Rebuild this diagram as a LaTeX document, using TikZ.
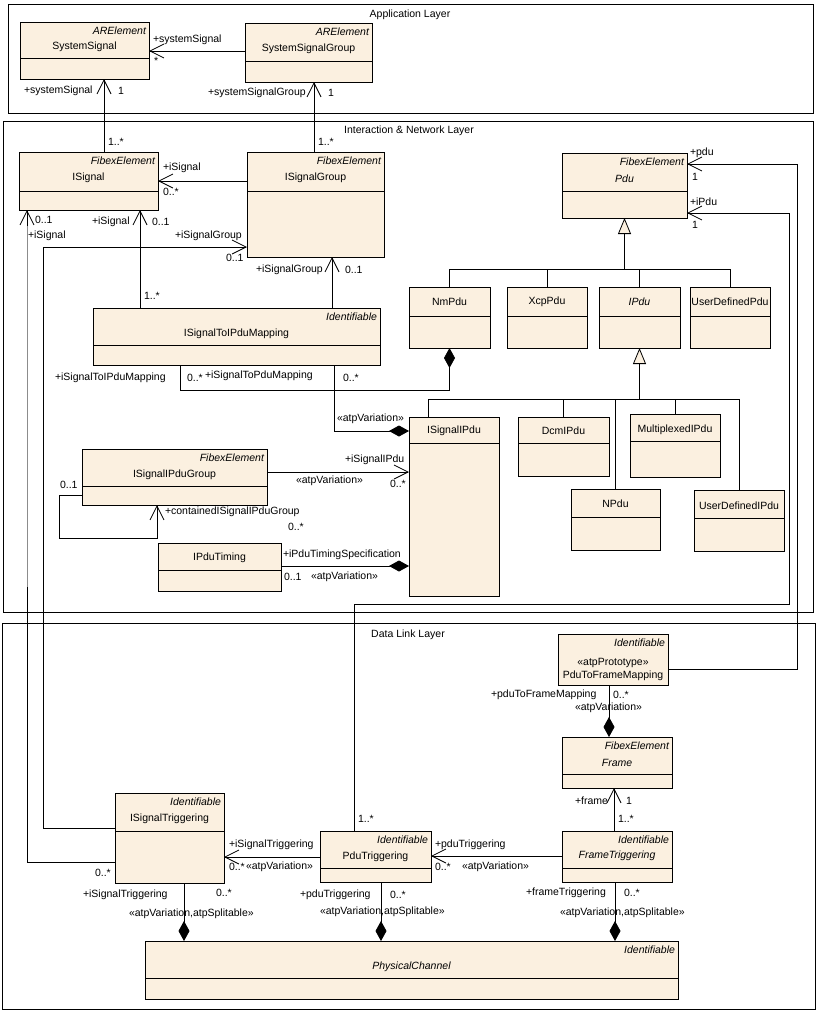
\documentclass[tikz,border=0pt]{standalone}
\usepackage{fontspec}
\setmainfont{Liberation Sans}
\usetikzlibrary{arrows.meta,calc}
\definecolor{cream}{HTML}{FBF0E0}
\newcommand\umlcls[6]{%
  \node[cls, minimum width=#4pt, minimum height=#5pt, anchor=north west] (#1) at (#2,#3) {};
  \draw[ln] ($(#1.north west)+(0,#6)$) -- ($(#1.north east)+(0,#6)$);}
\newcommand\umlclsnodiv[5]{%
  \node[cls, minimum width=#4pt, minimum height=#5pt, anchor=north west] (#1) at (#2,#3) {};}
\newcommand\umlst[2]{\node[anchor=east, font=\fontsize{10.5}{12}\selectfont\itshape] (#1-st) at ($(#1.north east)+(-3,9)$) {#2};}
\newcommand\umlnm[3]{\node (#1-nm) at ($(#1.north)+(0,#2)$) {#3};}
\newcommand\lbl[4]{\node[anchor=west] (#1) at (#2,#3) {#4};}
\begin{document}
\begin{tikzpicture}[x=1pt,y=-1pt,
  every node/.style={font=\fontsize{10.5}{12}\selectfont, inner sep=0pt, outer sep=0pt},
  ln/.style={line width=0.8pt},
  cls/.style={draw, fill=cream, line width=0.8pt, rectangle, inner sep=0pt},
  layer/.style={draw, line width=0.9pt, rectangle, inner sep=0pt, anchor=north west},
  open/.style={ln, -{Straight Barb[length=14pt,width=14pt]}},
  comp/.style={ln, -{Diamond[length=20pt,width=11pt]}},
  gen/.style={ln, -{Triangle[length=16pt,width=13pt,fill=cream]}}]
\useasboundingbox (0,0) rectangle (831,1017);
\fill[white] (0,0) rectangle (831,1017);
% layers
\node[layer, minimum width=805pt, minimum height=109pt] (applayer) at (8,4) {};
\node (applayer-t) at (410,15) {Application Layer};
\node[layer, minimum width=810pt, minimum height=491pt] (netlayer) at (3,121) {};
\node (netlayer-t) at (409,131) {Interaction \& Network Layer};
\node[layer, minimum width=813pt, minimum height=386pt] (dllayer) at (2,623) {};
\node (dllayer-t) at (408,635) {Data Link Layer};
% classes
\umlcls{ss}{20}{22}{129}{57}{36}\umlst{ss}{ARElement}\umlnm{ss}{25}{SystemSignal}
\umlcls{ssg}{245}{23}{127}{59}{38}\umlst{ssg}{ARElement}\umlnm{ssg}{26}{SystemSignalGroup}
\umlcls{isig}{19}{152}{139}{58}{39}\umlst{isig}{FibexElement}\umlnm{isig}{26}{ISignal}
\umlcls{isg}{247}{152}{137}{105}{39}\umlst{isg}{FibexElement}\umlnm{isg}{26}{ISignalGroup}
\umlcls{map}{93}{308}{287}{57}{37}\umlst{map}{Identifiable}\umlnm{map}{26}{ISignalToIPduMapping}
\umlcls{pdu}{562}{153}{125}{65}{38}\umlst{pdu}{FibexElement}\umlnm{pdu}{26}{\itshape Pdu}
\umlcls{nmpdu}{409}{287}{81}{61}{29}\umlnm{nmpdu}{15}{NmPdu}
\umlcls{xcppdu}{507}{287}{80}{61}{29}\umlnm{xcppdu}{15}{XcpPdu}
\umlcls{ipdu}{599}{287}{81}{61}{29}\umlnm{ipdu}{15}{\itshape IPdu}
\umlcls{udpdu}{690}{287}{80}{61}{29}\umlnm{udpdu}{15}{UserDefinedPdu}
\umlcls{isipdu}{409}{417}{90}{179}{26}\umlnm{isipdu}{14}{ISignalIPdu}
\umlcls{dcmipdu}{518}{417}{91}{59}{26}\umlnm{dcmipdu}{14}{DcmIPdu}
\umlcls{mipdu}{630}{414}{90}{63}{27}\umlnm{mipdu}{16}{MultiplexedIPdu}
\umlcls{npdu}{571}{489}{89}{61}{28}\umlnm{npdu}{15}{NPdu}
\umlcls{udipdu}{694}{490}{90}{61}{28}\umlnm{udipdu}{16}{UserDefinedIPdu}
\umlcls{ipg}{82}{449}{185}{56}{37}\umlst{ipg}{FibexElement}\umlnm{ipg}{26}{ISignalIPduGroup}
\umlcls{ipt}{158}{543}{123}{48}{27}\umlnm{ipt}{15}{IPduTiming}
\umlclsnodiv{p2fm}{558}{634}{110}{51}\umlst{p2fm}{Identifiable}
\node (p2fm-pr) at ($(p2fm.north)+(0,29)$) {«atpPrototype»};
\node (p2fm-nm) at ($(p2fm.north)+(0,42)$) {PduToFrameMapping};
\umlcls{frame}{562}{737}{110}{51}{37}\umlst{frame}{FibexElement}\umlnm{frame}{26}{\itshape Frame}
\umlcls{ftrig}{562}{831}{110}{51}{37}\umlst{ftrig}{Identifiable}\umlnm{ftrig}{25}{\itshape FrameTriggering}
\umlcls{ptrig}{320}{831}{111}{51}{37}\umlst{ptrig}{Identifiable}\umlnm{ptrig}{26}{PduTriggering}
\umlcls{istrig}{115}{793}{109}{90}{38}\umlst{istrig}{Identifiable}\umlnm{istrig}{26}{ISignalTriggering}
\umlcls{phys}{145}{941}{533}{58}{37}\umlst{phys}{Identifiable}\umlnm{phys}{26}{\itshape PhysicalChannel}
% connectors
\draw[open] (ssg.west |- 0,51) -- (ss.east |- 0,51);
\draw[open] (isig.north -| 104,0) -- (ss.south -| 104,0);
\draw[open] (isg.north -| 314,0) -- (ssg.south -| 314,0);
\draw[open] (isg.west |- 0,181) -- (isig.east |- 0,181);
\draw[open] (map.north -| 140,0) -- (isig.south -| 140,0);
\draw[open] (map.north -| 332,0) -- (isg.south -| 332,0);
\draw[open] (istrig.west |- 0,828) -- (43,828) -- (43,247) -- (isg.west |- 0,247);
\draw[open] (istrig.west |- 0,862) -- (27,862) -- (isig.south -| 27,0);
\draw[line width=0.9pt, black!45] (27,226) -- (27,587);
\draw[comp] (map.south -| 180,0) |- (nmpdu.south |- 0,390) -- (nmpdu.south);
\draw[comp] (map.south -| 334,0) |- (isipdu.west |- 0,431);
\draw[open] (ipg.east |- 0,472) -- (isipdu.west |- 0,472);
\draw[open] (ipg.west |- 0,495) -- (59,495) -- (59,538) -- (157,538) -- (ipg.south -| 157,0);
\draw[comp] (ipt.east |- 0,566) -- (isipdu.west |- 0,566);
% generalizations
\draw[ln] (nmpdu.north) |- (pdu.south |- 0,269);
\draw[ln] (xcppdu.north) |- (pdu.south |- 0,269);
\draw[ln] (ipdu.north) |- (pdu.south |- 0,269);
\draw[ln] (udpdu.north) |- (pdu.south |- 0,269);
\draw[gen] (pdu.south |- 0,269) -- (pdu.south);
\draw[ln] (isipdu.north -| 428,0) |- (ipdu.south |- 0,399);
\draw[ln] (dcmipdu.north) |- (ipdu.south |- 0,399);
\draw[ln] (npdu.north) |- (ipdu.south |- 0,399);
\draw[ln] (mipdu.north) |- (ipdu.south |- 0,399);
\draw[ln] (udipdu.north) |- (ipdu.south |- 0,399);
\draw[gen] (ipdu.south |- 0,399) -- (ipdu.south);
% long connectors to Pdu
\draw[open] (p2fm.east |- 0,669) -- (797,669) -- (797,164) -- (pdu.east |- 0,164);
\draw[open] (ptrig.north -| 354,0) -- (354,604) -- (789,604) -- (789,213) -- (pdu.east |- 0,213);
% data link
\draw[comp] (p2fm.south -| 609,0) -- (frame.north -| 609,0);
\draw[open] (ftrig.north -| 614,0) -- (frame.south -| 614,0);
\draw[open] (ftrig.west |- 0,856) -- (ptrig.east |- 0,856);
\draw[open] (ptrig.west |- 0,857) -- (istrig.east |- 0,857);
\draw[comp] (istrig.south -| 184,0) -- (phys.north -| 184,0);
\draw[comp] (ptrig.south -| 381,0) -- (phys.north -| 381,0);
\draw[comp] (ftrig.south -| 615,0) -- (phys.north -| 615,0);
% labels
\lbl{l1}{153}{40}{+systemSignal}
\lbl{l2}{154}{61}{*}
\lbl{l3}{24}{91}{+systemSignal}
\lbl{l4}{118}{91}{1}
\lbl{l5}{208}{93}{+systemSignalGroup}
\lbl{l6}{328}{93}{1}
\lbl{l7}{108}{142}{1..*}
\lbl{l8}{318}{142}{1..*}
\lbl{l9}{163}{168}{+iSignal}
\lbl{l10}{163}{192}{0..*}
\lbl{l11}{35}{220}{0..1}
\lbl{l12}{28}{236}{+iSignal}
\lbl{l13}{92}{222}{+iSignal}
\lbl{l14}{152}{222}{0..1}
\lbl{l15}{175}{236}{+iSignalGroup}
\lbl{l16}{226}{258}{0..1}
\lbl{l17}{256}{270}{+iSignalGroup}
\lbl{l18}{345}{270}{0..1}
\lbl{l19}{144}{296}{1..*}
\lbl{l20}{55}{378}{+iSignalToIPduMapping}
\lbl{l21}{187}{378}{0..*}
\lbl{l22}{205}{376}{+iSignalToPduMapping}
\lbl{l23}{343}{378}{0..*}
\lbl{l24}{337}{419}{«atpVariation»}
\lbl{l25}{690}{153}{+pdu}
\lbl{l26}{692}{177}{1}
\lbl{l27}{690}{202}{+iPdu}
\lbl{l28}{692}{225}{1}
\lbl{l29}{345}{460}{+iSignalIPdu}
\lbl{l30}{296}{481}{«atpVariation»}
\lbl{l31}{390}{484}{0..*}
\lbl{l32}{60}{485}{0..1}
\lbl{l33}{165}{512}{+containedISignalIPduGroup}
\lbl{l34}{288}{527}{0..*}
\lbl{l35}{283}{555}{+iPduTimingSpecification}
\lbl{l36}{284}{577}{0..1}
\lbl{l37}{311}{577}{«atpVariation»}
\lbl{l38}{491}{695}{+pduToFrameMapping}
\lbl{l39}{613}{695}{0..*}
\lbl{l40}{575}{708}{«atpVariation»}
\lbl{l41}{575}{801}{+frame}
\lbl{l42}{626}{801}{1}
\lbl{l43}{618}{819}{1..*}
\lbl{l44}{435}{845}{+pduTriggering}
\lbl{l45}{435}{867}{0..*}
\lbl{l46}{462}{867}{«atpVariation»}
\lbl{l47}{358}{819}{1..*}
\lbl{l48}{229}{845}{+iSignalTriggering}
\lbl{l49}{229}{867}{0..*}
\lbl{l50}{246}{867}{«atpVariation»}
\lbl{l51}{95}{873}{0..*}
\lbl{l52}{83}{895}{+iSignalTriggering}
\lbl{l53}{216}{893}{0..*}
\lbl{l54}{129}{914}{«atpVariation,atpSplitable»}
\lbl{l55}{300}{895}{+pduTriggering}
\lbl{l56}{390}{895}{0..*}
\lbl{l57}{320}{912}{«atpVariation,atpSplitable»}
\lbl{l58}{526}{893}{+frameTriggering}
\lbl{l59}{624}{893}{0..*}
\lbl{l60}{560}{913}{«atpVariation,atpSplitable»}
\end{tikzpicture}
\end{document}
